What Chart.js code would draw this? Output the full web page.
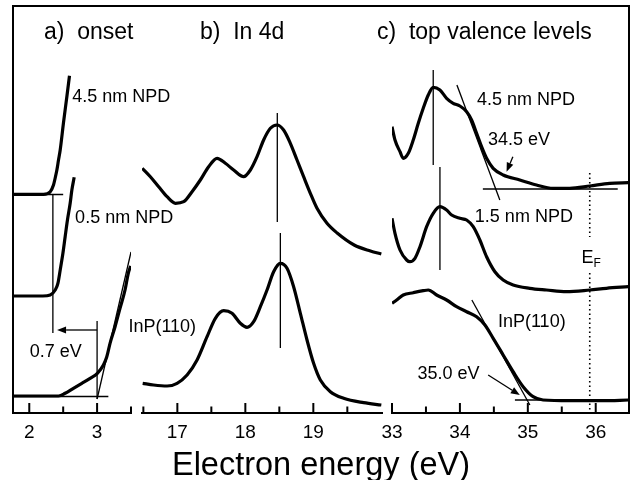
<!DOCTYPE html>
<html>
<head>
<meta charset="utf-8">
<script src="https://cdn.jsdelivr.net/npm/chart.js@4.4.1/dist/chart.umd.min.js"></script>
<style>
  html, body { margin: 0; padding: 0; background: #fff; }
  #wrap { position: relative; width: 630px; height: 480px; overflow: hidden;
          font-family: "Liberation Sans", Arial, Helvetica, sans-serif; color: #000; }
  #wrap canvas { position: absolute; left: 0; top: 0; }
  .frame { position: absolute; left: 12px; top: 5px; width: 618px; height: 408px;
           box-sizing: border-box; border: 2px solid #000; border-bottom: none; }
  .head { position: absolute; top: 18px; font-size: 23px; line-height: 27px; white-space: pre; }
  .xtitle { position: absolute; left: 0; width: 642px; top: 446px; font-size: 32.5px;
            line-height: 36px; text-align: center; }
</style>
</head>
<body>
<div id="wrap">
  <canvas id="onset" width="630" height="480"></canvas>
  <canvas id="in4d" width="630" height="480"></canvas>
  <canvas id="valence" width="630" height="480"></canvas>
  <div class="frame"></div>
  <div class="head" style="left:44px">a)  onset</div>
  <div class="head" style="left:200px">b)  In 4d</div>
  <div class="head" style="left:377px">c)  top valence levels</div>
  <div class="xtitle">Electron energy (eV)</div>
</div>
<script>
const FONT = '"Liberation Sans", Arial, Helvetica, sans-serif';

// intensity is in arbitrary units, curves are stacked with offsets as in the paper

// a) onset
const onsetTicks = [2, 2.5, 3, 3.5];
const onsetNpd45E = [1.76, 2.21, 2.309, 2.357, 2.382, 2.407, 2.431, 2.456, 2.504, 2.554, 2.593];
const onsetNpd45I = [218.7, 218.7, 221.3, 228, 235, 243, 253, 263, 290, 316.3, 337.3];
const onsetNpd05E = [1.76, 2.2, 2.309, 2.382, 2.422, 2.456, 2.496, 2.529, 2.563, 2.603, 2.628, 2.662];
const onsetNpd05I = [117, 117, 118, 123, 129.7, 143, 159.7, 176.3, 193, 209.7, 223, 235.7];
const onsetInpE = [1.76, 2.2, 2.431, 2.529, 2.651, 2.775, 2.897, 3.004, 3.093, 3.143, 3.191, 3.265, 3.338, 3.412, 3.46, 3.495];
const onsetInpI = [17, 17, 17, 19.7, 24.7, 29.7, 34.7, 39.7, 48, 56.3, 69.7, 86.3, 104.7, 123, 139.7, 147];
const onsetGuides = [
    [[1.76, 218.5], [2.5, 218.5]],
    [[2.348, 218.5], [2.348, 80]],
    [[3.0, 92], [3.0, 14]],
    [[1.76, 16.5], [3.166, 16.5]],
    [[3.0, 14], [3.5, 161]],
];
const onsetArrows = [[[3.0, 83], [2.41, 83]]];
const onsetLabels = [
    { text: "4.5 nm NPD", x: 2.632, y: 316 },
    { text: "0.5 nm NPD", x: 2.676, y: 195 },
    { text: "0.7 eV", x: 2.39, y: 61, align: "center" },
];

// b) In 4d
const in4dTicks = [16.5, 17, 17.5, 18, 18.5, 19, 19.5];
const in4dNpdE = [16.485, 16.603, 16.725, 16.849, 16.971, 17.093, 17.216, 17.338, 17.46, 17.584,
    17.706, 17.828, 17.975, 18.074, 18.172, 18.269, 18.368, 18.466, 18.563, 18.662,
    18.76, 18.857, 18.956, 19.054, 19.201, 19.35, 19.6, 19.84, 20.0];
const in4dNpdI = [244.7, 236.3, 226.3, 216.3, 209.7, 211.3, 221.3, 233, 246.3, 254.7,
    249.7, 243, 236.3, 243, 256.3, 273, 284.7, 288, 283, 269.7,
    253, 236.3, 219.7, 204.7, 189.7, 180, 168, 162, 159];
const in4dInpE = [16.49, 16.651, 16.849, 16.996, 17.143, 17.29, 17.437, 17.559, 17.681, 17.804,
    17.926, 18.025, 18.122, 18.221, 18.319, 18.416, 18.515, 18.613, 18.71, 18.809,
    18.907, 19.004, 19.103, 19.25, 19.446, 19.74, 20.0];
const in4dInpI = [29.7, 28, 27, 29.7, 38, 53, 76.3, 94.7, 102.3, 99.7,
    89.7, 85.7, 91.3, 106.3, 123, 141.3, 149.7, 144.7, 126.3, 99.7,
    73, 49.7, 33, 21.3, 14.7, 10.3, 8];
const in4dGuides = [
    [[18.47, 300], [18.47, 191]],
    [[18.515, 180], [18.515, 65]],
];
const in4dLabels = [{ text: "InP(110)", x: 16.28, y: 86 }];

// c) top valence levels
const valenceTicks = [33, 33.5, 34, 34.5, 35, 35.5, 36];
const valNpd45E = [33.0, 33.044, 33.118, 33.166, 33.24, 33.313, 33.387, 33.46, 33.534, 33.607,
    33.706, 33.804, 33.901, 34.0, 34.099, 34.172, 34.246, 34.319, 34.393, 34.49,
    34.637, 34.882, 35.128, 35.372, 35.618, 35.912, 36.206, 36.48];
const valNpd45I = [286.3, 273, 261.3, 254.7, 259.7, 273, 289.7, 304.7, 318, 325.7,
    323, 314.7, 309.7, 307, 301.3, 293, 279.7, 266.3, 254.7, 244.7,
    238, 233, 228, 224.7, 224.7, 227, 229.7, 230.3];
const valNpd15E = [33.0, 33.044, 33.118, 33.216, 33.265, 33.338, 33.412, 33.51, 33.607, 33.706,
    33.804, 33.878, 34.0, 34.099, 34.196, 34.294, 34.393, 34.515, 34.637, 34.784,
    35.029, 35.275, 35.569, 35.912, 36.157, 36.48];
const valNpd15I = [194.7, 179.7, 163, 153, 151.3, 154.7, 166.3, 186.3, 199.7, 206.3,
    203, 198, 194.7, 193, 186.3, 173, 156.3, 141.3, 133, 128,
    124.7, 123, 121.3, 123, 124.7, 126.3];
const valInpE = [33.0, 33.069, 33.166, 33.313, 33.46, 33.534, 33.657, 33.804, 33.951, 34.099,
    34.246, 34.368, 34.49, 34.637, 34.784, 34.931, 35.078, 35.225, 35.618, 36.107, 36.48];
const valInpI = [109.7, 113, 118, 120.3, 122.3, 123, 118, 113, 106.3, 101.3,
    96.3, 88, 74.7, 58, 41.3, 26.3, 16.3, 13, 12.3, 12.3, 13];
const valenceGuides = [
    [[33.607, 343], [33.607, 248]],
    [[33.706, 246], [33.706, 143]],
    [[33.956, 328], [34.588, 213]],
    [[34.338, 224], [36.324, 224]],
    [[34.176, 113], [35.03, 8]],
    [[34.81, 13], [35.4, 13]],
];
const fermiLevel = [[[35.912, 240], [35.912, 176]], [[35.912, 140], [35.912, 3]]];
const valenceArrows = [
    [[34.78, 256.3], [34.687, 241.3]],
    [[34.416, 38], [34.882, 18]],
];
const valenceLabels = [
    { text: "4.5 nm NPD", x: 34.25, y: 313 },
    { text: "34.5 eV", x: 34.87, y: 273, align: "center" },
    { text: "1.5 nm NPD", x: 34.22, y: 196 },
    { text: "InP(110)", x: 34.56, y: 91 },
    { text: "35.0 eV", x: 34.29, y: 39, align: "right" },
    { text: "E", x: 35.79, y: 155, sub: "F" },
];

function curve(xs, ys) {
    return {
        data: xs.map((x, i) => ({ x, y: ys[i] })),
        borderColor: "#000",
        borderWidth: 3.2,
        pointRadius: 0,
        cubicInterpolationMode: "monotone",
        fill: false,
    };
}

function guide(seg, dash) {
    return {
        data: seg.map(([x, y]) => ({ x, y })),
        borderColor: "#000",
        borderWidth: dash ? 1.6 : 1.3,
        borderDash: dash || [],
        pointRadius: 0,
        fill: false,
    };
}

// inward tick marks on the energy axis: long on whole eV, short on half eV
function tickMarks(ticks) {
    return ticks.map((v) => ({
        data: [{ x: v, y: 0 }, { x: v, y: Number.isInteger(v) ? 10 : 6.5 }],
        borderColor: "#000",
        borderWidth: 2,
        pointRadius: 0,
        fill: false,
        clip: false,
    }));
}

function drawArrow(ctx, x1, y1, x2, y2) {
    const ang = Math.atan2(y2 - y1, x2 - x1);
    const len = 9, half = 3.5;
    const bx = x2 - len * Math.cos(ang), by = y2 - len * Math.sin(ang);
    ctx.beginPath();
    ctx.moveTo(x1, y1);
    ctx.lineTo(bx, by);
    ctx.stroke();
    ctx.beginPath();
    ctx.moveTo(x2, y2);
    ctx.lineTo(bx + half * Math.sin(ang), by - half * Math.cos(ang));
    ctx.lineTo(bx - half * Math.sin(ang), by + half * Math.cos(ang));
    ctx.closePath();
    ctx.fill();
}

function annotate(labels, arrows) {
    return {
        id: "annotate",
        afterDatasetsDraw(chart) {
            const { ctx, scales: { x, y } } = chart;
            ctx.save();
            ctx.fillStyle = "#000";
            ctx.strokeStyle = "#000";
            ctx.lineWidth = 1.3;
            for (const [from, to] of arrows) {
                drawArrow(ctx, x.getPixelForValue(from[0]), y.getPixelForValue(from[1]),
                    x.getPixelForValue(to[0]), y.getPixelForValue(to[1]));
            }
            ctx.textBaseline = "middle";
            for (const l of labels) {
                ctx.font = `18px ${FONT}`;
                ctx.textAlign = l.align || "left";
                const px = x.getPixelForValue(l.x);
                const py = y.getPixelForValue(l.y);
                ctx.fillText(l.text, px, py);
                if (l.sub) {
                    const w = ctx.measureText(l.text).width;
                    ctx.font = `12px ${FONT}`;
                    ctx.fillText(l.sub, px + w, py + 6);
                }
            }
            ctx.restore();
        },
    };
}

function makePanel(id, min, max, left, right, ticks, datasets, labels, arrows) {
    return new Chart(document.getElementById(id), {
        type: "line",
        data: { datasets: [...datasets, ...tickMarks(ticks)] },
        options: {
            responsive: false,
            animation: false,
            layout: { padding: { left, right: 630 - right, top: 6, bottom: 0 } },
            plugins: { legend: { display: false }, tooltip: { enabled: false } },
            scales: {
                x: {
                    type: "linear",
                    min,
                    max,
                    afterBuildTicks: (scale) => {
                        scale.ticks = ticks.map((v) => ({ value: v }));
                    },
                    afterFit: (scale) => {
                        scale.height = 480 - 413;
                    },
                    grid: { display: false, drawOnChartArea: false, drawTicks: false },
                    border: { display: true, color: "#000", width: 2 },
                    ticks: {
                        autoSkip: false,
                        maxRotation: 0,
                        padding: 8.5,
                        color: "#000",
                        font: { size: 19, family: FONT },
                        callback: (v) => (Number.isInteger(v) ? String(v) : ""),
                    },
                },
                y: { display: false, min: 0, max: 407 },
            },
        },
        plugins: [annotate(labels, arrows)],
    });
}

makePanel("onset", 1.76, 3.5, 13, 131, onsetTicks,
    [curve(onsetNpd45E, onsetNpd45I), curve(onsetNpd05E, onsetNpd05I), curve(onsetInpE, onsetInpI),
     ...onsetGuides.map((g) => guide(g))],
    onsetLabels, onsetArrows);

makePanel("in4d", 16.48, 20.01, 142, 382, in4dTicks,
    [curve(in4dNpdE, in4dNpdI), curve(in4dInpE, in4dInpI), ...in4dGuides.map((g) => guide(g))],
    in4dLabels, []);

makePanel("valence", 33, 36.49, 392, 629, valenceTicks,
    [curve(valNpd45E, valNpd45I), curve(valNpd15E, valNpd15I), curve(valInpE, valInpI),
     ...valenceGuides.map((g) => guide(g)), ...fermiLevel.map((g) => guide(g, [1.5, 3]))],
    valenceLabels, valenceArrows);
</script>
</body>
</html>
